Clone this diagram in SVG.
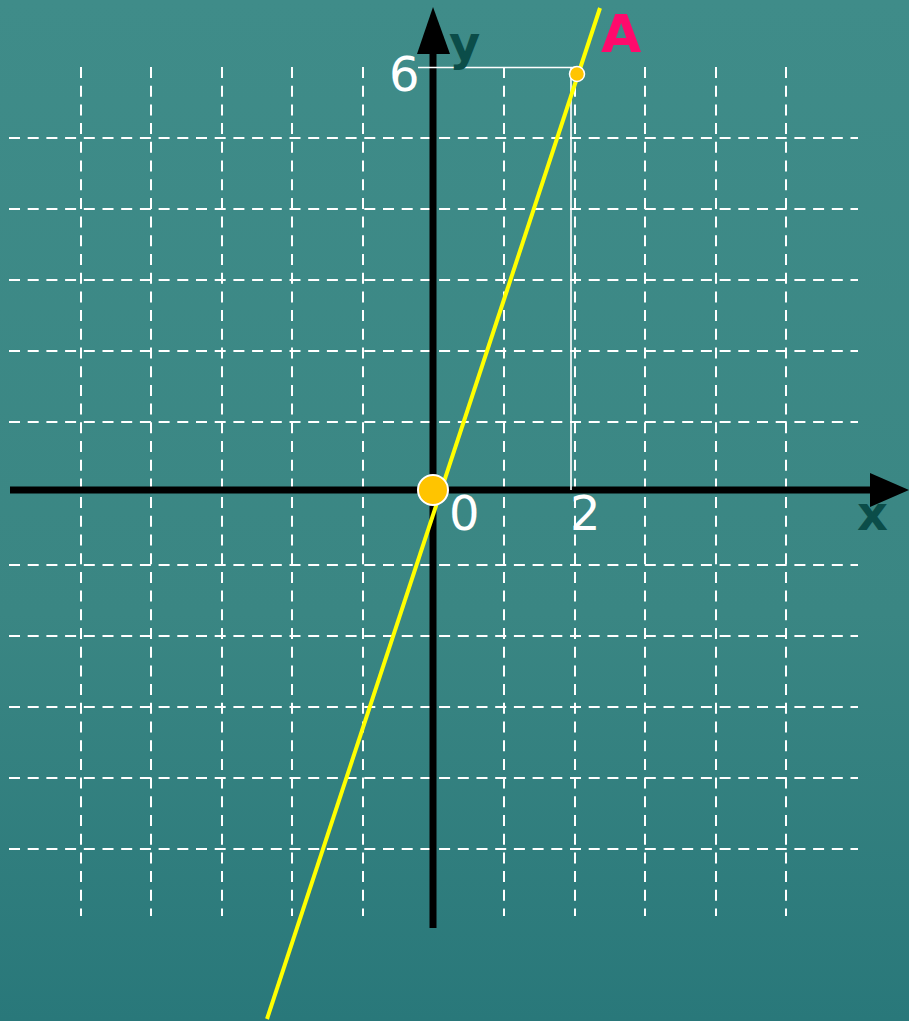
<svg xmlns="http://www.w3.org/2000/svg" width="909" height="1021" viewBox="0 0 909 1021">
<style>
.grid line{stroke:#fff;stroke-width:2;stroke-dasharray:11 7.7}
.axis{stroke:#000;stroke-width:7}
.lbl{font-family:"DejaVu Sans",sans-serif;font-size:48px;fill:#fff}
.bl{font-family:"DejaVu Sans",sans-serif;font-weight:bold;font-size:48px;fill:#0b4d49}
</style>
<defs>
<linearGradient id="bg" x1="0" y1="0" x2="0" y2="1">
<stop offset="0" stop-color="#3f8c89"/>
<stop offset="0.6" stop-color="#3a8683"/>
<stop offset="1" stop-color="#29787a"/>
</linearGradient>
</defs>
<rect width="909" height="1021" fill="url(#bg)"/>
<g class="grid">
<line x1="81" y1="67" x2="81" y2="916"/>
<line x1="151" y1="67" x2="151" y2="916"/>
<line x1="222" y1="67" x2="222" y2="916"/>
<line x1="292" y1="67" x2="292" y2="916"/>
<line x1="363" y1="67" x2="363" y2="916"/>
<line x1="504" y1="67" x2="504" y2="916"/>
<line x1="575" y1="67" x2="575" y2="916"/>
<line x1="645" y1="67" x2="645" y2="916"/>
<line x1="716" y1="67" x2="716" y2="916"/>
<line x1="786" y1="67" x2="786" y2="916"/>
<line x1="9" y1="138" x2="858" y2="138"/>
<line x1="9" y1="209" x2="858" y2="209"/>
<line x1="9" y1="280" x2="858" y2="280"/>
<line x1="9" y1="351" x2="858" y2="351"/>
<line x1="9" y1="422" x2="858" y2="422"/>
<line x1="9" y1="565" x2="858" y2="565"/>
<line x1="9" y1="636" x2="858" y2="636"/>
<line x1="9" y1="707" x2="858" y2="707"/>
<line x1="9" y1="778" x2="858" y2="778"/>
<line x1="9" y1="849" x2="858" y2="849"/>
</g>
<g id="axes">
<line class="axis" x1="10" y1="490" x2="872" y2="490"/>
<polygon points="870,473 909,490 870,507" fill="#000"/>
<line class="axis" x1="433" y1="52" x2="433" y2="928"/>
<polygon points="417,54 433,7 450,54" fill="#000"/>
</g>
<g id="guides" stroke="#fff" stroke-width="1.6" fill="none">
<line x1="418" y1="67.5" x2="577" y2="67.5"/>
<line x1="571" y1="67" x2="571" y2="490"/>
</g>
<g id="graph">
<line x1="600" y1="8" x2="267" y2="1019" stroke="#ffff00" stroke-width="4"/>
</g>
<g id="origin"><circle cx="433" cy="490" r="15" fill="#ffc400" stroke="#fff" stroke-width="2"/></g>
<g id="pointA"><circle cx="577" cy="74" r="7.5" fill="#ffc400" stroke="#fff" stroke-width="1.5"/></g>
<g id="labels">
<text class="lbl" x="389" y="91">6</text>
<text class="bl" x="449" y="60">y</text>
<text class="bl" x="601" y="52" style="fill:#ff0a6c;font-size:52px">A</text>
<text class="lbl" x="449" y="530">0</text>
<text class="lbl" x="570" y="530">2</text>
<text class="bl" x="857" y="530">x</text>
</g>
</svg>
